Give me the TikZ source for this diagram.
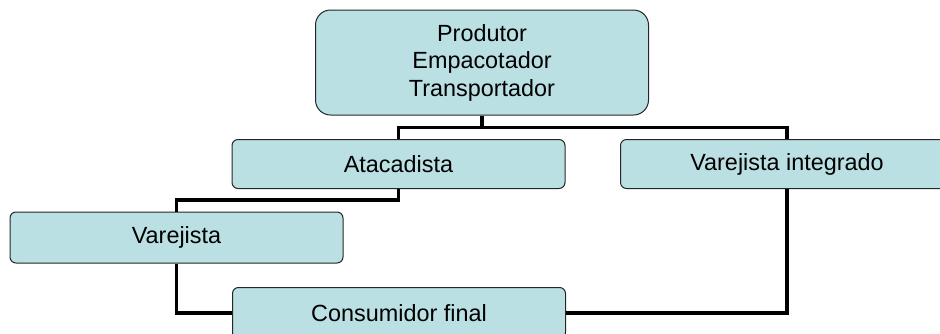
\documentclass[tikz,border=0pt]{standalone}
\usepackage{fontspec}
\setmainfont{Liberation Sans}
\usetikzlibrary{calc}
\definecolor{boxfill}{RGB}{186,224,227}
\tikzset{x=1pt,y=-1pt}
\tikzset{box/.style={draw=black!85, line width=1pt, fill=boxfill, rounded corners=6pt,
    minimum width=333pt, minimum height=49pt, inner sep=0pt, align=center,
    font=\fontsize{23.4}{27.5}\selectfont}}
\tikzset{conn/.style={line width=3.5pt, black}}
\def\drop{12}

\begin{document}
\begin{tikzpicture}

\useasboundingbox (0,0) rectangle (940,333);
\clip (0,0) rectangle (940,333);

%% boxes
\node[box, minimum height=105pt, rounded corners=15pt] (prod) at (482,62.5) {Produtor\\Empacotador\\Transportador};
\node[box] (atac) at (398.5,164) {Atacadista};
\node[box] (varint) at (787,164) {Varejista integrado};
\node[box, minimum height=51pt] (varej) at (176.5,237.5) {Varejista};
\node[box, minimum height=51pt] (cons) at (399,313) {Consumidor final};

%% connectors
\coordinate (split) at ($(prod.south)+(0,\drop)$);
\draw[conn] (prod.south) -- (split) -| (atac.north);
\draw[conn] (split) -| (varint.north);
\draw[conn] (atac.south) -- ++(0,11) -| (varej.north);
\draw[conn] (varej.south) |- (cons.west);
\draw[conn] (varint.south) |- (cons.east);

\end{tikzpicture}
\end{document}
